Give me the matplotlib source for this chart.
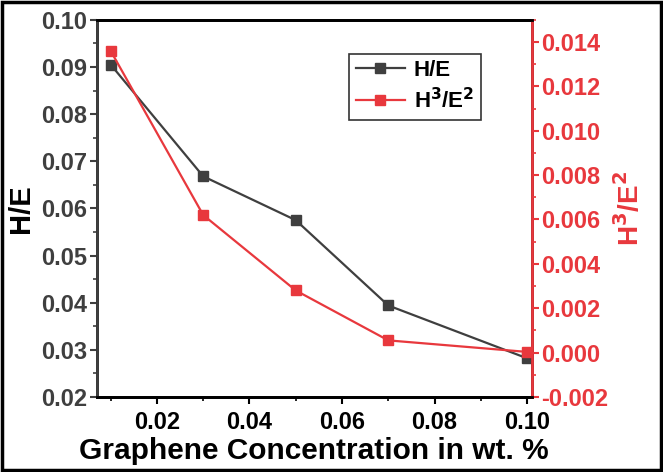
import matplotlib.pyplot as plt
from matplotlib.patches import Rectangle
from matplotlib.ticker import MultipleLocator

plt.rcParams['font.family'] = ['Liberation Sans', 'DejaVu Sans']
plt.rcParams['font.weight'] = 'bold'
plt.rcParams['mathtext.default'] = 'bf'

conc = [0.01, 0.03, 0.05, 0.07, 0.10]
h_e = [0.0905, 0.0668, 0.0575, 0.0394, 0.0282]
h3_e2 = [0.0136, 0.0062, 0.0028, 0.00055, 0.00003]

gray = '#3f3f3f'
red = '#e8383d'

fig = plt.figure(figsize=(6.63, 4.72), dpi=100)
fig.patches.append(Rectangle((0.003, 0.004), 0.994, 0.992, transform=fig.transFigure,
                             fill=False, edgecolor='black', linewidth=2.5))

ax = fig.add_axes([0.146, 0.159, 0.656, 0.799])
ax2 = ax.twinx()

l1, = ax.plot(conc, h_e, color=gray, marker='s', markersize=7, lw=1.6, label='H/E')
l2, = ax2.plot(conc, h3_e2, color=red, marker='s', markersize=7, lw=1.6, label='H$^3$/E$^2$')

ax.set_xlim(0.007, 0.101)
ax.set_ylim(0.02, 0.10)
ax2.set_ylim(-0.002, 0.015)

ax.xaxis.set_major_locator(MultipleLocator(0.02))
ax.xaxis.set_minor_locator(MultipleLocator(0.01))
ax.yaxis.set_major_locator(MultipleLocator(0.01))
ax.yaxis.set_minor_locator(MultipleLocator(0.005))
ax2.yaxis.set_major_locator(MultipleLocator(0.002))
ax2.yaxis.set_minor_locator(MultipleLocator(0.001))

ax.xaxis.set_major_formatter(plt.FormatStrFormatter('%.2f'))
ax.yaxis.set_major_formatter(plt.FormatStrFormatter('%.2f'))
ax2.yaxis.set_major_formatter(plt.FormatStrFormatter('%.3f'))

ax.tick_params(axis='x', which='major', length=5, width=1.5, labelsize=17, colors='black', direction='out', pad=5)
ax.tick_params(axis='x', which='minor', length=3, width=1.2, direction='out')
ax.tick_params(axis='y', which='major', length=5, width=1.5, labelsize=17, colors=gray, direction='out', pad=2)
ax.tick_params(axis='y', which='minor', length=3, width=1.2, colors=gray, direction='out')
ax2.tick_params(axis='y', which='major', length=5, width=1.5, labelsize=17, colors=red, direction='out', pad=2)
ax2.tick_params(axis='y', which='minor', length=3, width=1.2, colors=red, direction='out')

for sp in ax.spines.values():
    sp.set_linewidth(2)
ax2.spines['left'].set_color(gray)
ax2.spines['left'].set_linewidth(2)
ax2.spines['right'].set_color(red)
ax2.spines['right'].set_linewidth(2)
ax2.spines['top'].set_color('black')
ax2.spines['top'].set_linewidth(2)
ax2.spines['bottom'].set_linewidth(2)

ax.set_xlabel('Graphene Concentration in wt. %', fontsize=21.5, fontweight='bold', labelpad=2)
ax.set_ylabel('H/E', fontsize=21, fontweight='bold', color='black', labelpad=4)
ax2.set_ylabel('H$^3$/E$^2$', fontsize=20, fontweight='bold', color=red, labelpad=4)

leg = ax2.legend([l1, l2], ['H/E', 'H$^3$/E$^2$'], loc='upper left', bbox_to_anchor=(0.555, 0.94),
                 fontsize=16, frameon=True, fancybox=False, edgecolor='black',
                 handlelength=2.2, handletextpad=0.4, borderpad=0.3, labelspacing=0.3)
leg.get_frame().set_linewidth(1.2)

plt.savefig('out.png', dpi=100)
